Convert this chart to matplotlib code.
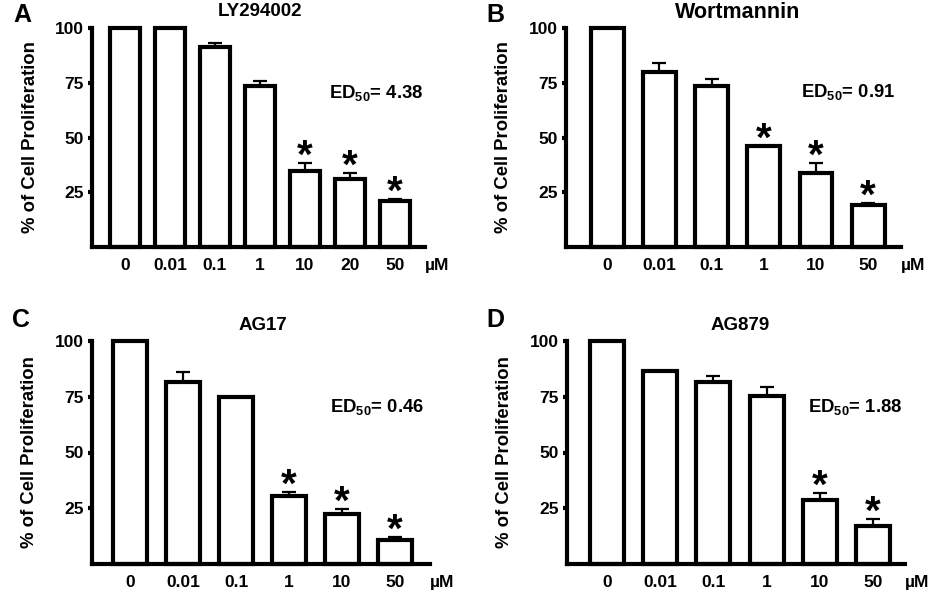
import matplotlib
matplotlib.use("Agg")
import matplotlib.pyplot as plt
import numpy as np

plt.rcParams['font.family'] = ['Liberation Sans', 'DejaVu Sans']
plt.rcParams['font.weight'] = 'bold'
plt.rcParams['mathtext.fontset'] = 'custom'
plt.rcParams['mathtext.rm'] = 'Liberation Sans:bold'
plt.rcParams['mathtext.it'] = 'Liberation Sans:bold'
plt.rcParams['mathtext.bf'] = 'Liberation Sans:bold'

# data (mean % proliferation, upper SEM, significance)
doses_a = ['0', '0.01', '0.1', '1', '10', '20', '50']
prolif_a = [100, 100, 91.3, 73.5, 34.7, 31.0, 21.0]
sem_a = [0, 0, 1.9, 2.3, 3.7, 3.0, 1.0]
sig_a = [0, 0, 0, 0, 1, 1, 1]

doses_b = ['0', '0.01', '0.1', '1', '10', '50']
prolif_b = [100, 80.0, 73.5, 46.3, 33.8, 19.0]
sem_b = [0, 4.0, 3.2, 0, 4.6, 1.0]
sig_b = [0, 0, 0, 1, 1, 1]

doses_c = ['0', '0.01', '0.1', '1', '10', '50']
prolif_c = [100, 81.6, 75.0, 30.5, 22.4, 10.8]
sem_c = [0, 4.4, 0, 1.8, 2.3, 1.3]
sig_c = [0, 0, 0, 1, 1, 1]

doses_d = ['0', '0.01', '0.1', '1', '10', '50']
prolif_d = [100, 86.5, 81.6, 75.3, 28.7, 17.0]
sem_d = [0, 0, 2.7, 4.1, 3.1, 3.0]
sig_d = [0, 0, 0, 0, 1, 1]

titles = ['LY294002', 'Wortmannin', 'AG17', 'AG879']
ed50 = ['4.38', '0.91', '0.46', '1.88']
letters = ['A', 'B', 'C', 'D']

W, H = 938, 600
fig = plt.figure(figsize=(W / 100, H / 100), dpi=100)


def px(x, y):
    return x / W, 1 - y / H


# axes boxes in pixels: left, right, y of 0, y of 100
boxes = [(92, 425, 247, 28), (566, 901, 247, 28),
         (92, 430, 564, 341), (567, 905, 564, 341)]
xlims = [(-0.73, 6.67), (-0.79, 5.63), (-0.72, 5.66), (-0.75, 5.6)]
widths = [0.67, 0.63, 0.64, 0.64]
title_pos = [(260, 12), (738, 13), (263, 326), (740, 326)]
title_size = [13.5, 15.5, 13.5, 13.5]
ed_pos = [(329, 93), (801, 92), (330, 407), (808, 407)]
letter_pos = [(13, 15), (486, 15), (12, 320), (486, 320)]

panels = [(doses_a, prolif_a, sem_a, sig_a), (doses_b, prolif_b, sem_b, sig_b),
          (doses_c, prolif_c, sem_c, sig_c), (doses_d, prolif_d, sem_d, sig_d)]

lw = 3.0
for k, (doses, vals, sems, sigs) in enumerate(panels):
    l, r, y0, y1 = boxes[k]
    ax = fig.add_axes([l / W, 1 - y0 / H, (r - l) / W, (y0 - y1) / H])
    x = np.arange(len(doses))
    vals = np.array(vals, dtype=float)
    sems = np.array(sems, dtype=float)

    has = sems > 0
    ax.errorbar(x[has], vals[has], yerr=[np.zeros(has.sum()), sems[has]],
                fmt='none', ecolor='black', elinewidth=1.6, capsize=5,
                capthick=1.6, zorder=1)
    bars = ax.bar(x, vals, width=widths[k], color='white', edgecolor='black',
                  linewidth=lw, zorder=2)
    for b in bars:
        b.set_clip_on(False)

    for i in range(len(doses)):
        if sigs[i]:
            ax.annotate('*', xy=(x[i], vals[i] + sems[i]), xytext=(0, -3.5),
                        textcoords='offset points', ha='center', va='baseline',
                        fontsize=29, fontweight='bold')

    ax.set_xlim(*xlims[k])
    ax.set_ylim(0, 100)
    ax.set_xticks(x)
    ax.set_xticklabels(doses)
    ax.set_yticks([25, 50, 75, 100])
    ax.tick_params(axis='x', length=0, pad=8, labelsize=12.5)
    ax.tick_params(axis='y', length=3, width=lw, pad=3, labelsize=12.5)
    for s in ['top', 'right']:
        ax.spines[s].set_visible(False)
    for s in ['left', 'bottom']:
        ax.spines[s].set_linewidth(lw)
        ax.spines[s].set_capstyle('projecting')
    ax.set_ylabel('% of Cell Proliferation', fontsize=13.3, fontweight='bold')
    ax.yaxis.set_label_coords(-0.16, 0.5)

    ax.annotate('µM', xy=(1, 0), xycoords='axes fraction', xytext=(9, -8),
                textcoords='offset points', ha='center', va='top',
                fontsize=12.5, fontweight='bold')

    fig.text(*px(*title_pos[k]), titles[k], ha='center', va='center',
             fontsize=title_size[k], fontweight='bold')
    fig.text(*px(*ed_pos[k]), 'ED$_{50}$= ' + ed50[k], ha='left', va='center',
             fontsize=13.3, fontweight='bold')
    fig.text(*px(*letter_pos[k]), letters[k], ha='left', va='center',
             fontsize=18, fontweight='bold')

fig.savefig('out.png', dpi=100)
